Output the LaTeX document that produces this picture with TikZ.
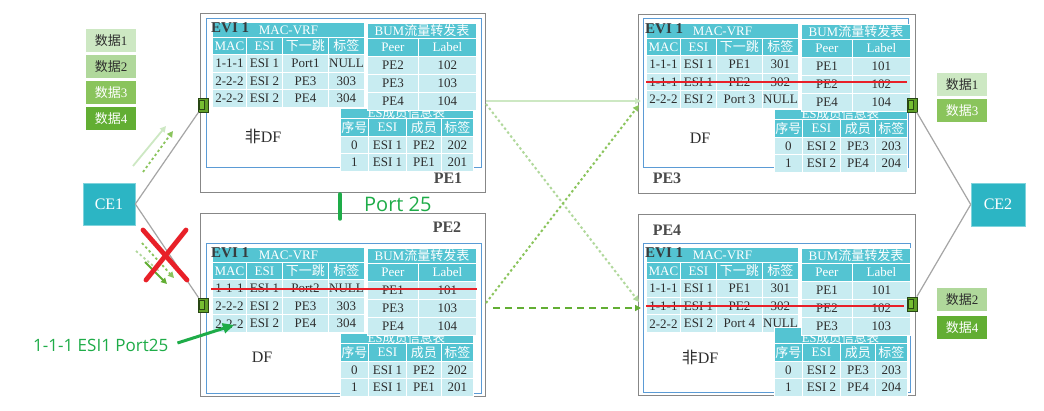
\documentclass[tikz,border=0pt]{standalone}
\usepackage{fontspec}
\setmainfont{Liberation Serif}
\newfontfamily\cjkf{Noto Sans CJK SC}
\newfontfamily\osans{Open Sans}
\usetikzlibrary{arrows.meta}
\newcommand\zh[1]{{\cjkf #1}}
\definecolor{thead}{RGB}{84,196,210}
\definecolor{trowc}{RGB}{200,236,241}
\definecolor{txtc}{RGB}{45,45,45}
\definecolor{evic}{RGB}{55,60,62}
\definecolor{pec}{RGB}{75,75,75}
\definecolor{blueb}{RGB}{91,155,213}
\definecolor{grayb}{RGB}{135,135,135}
\definecolor{cetl}{RGB}{44,181,196}
\definecolor{redx}{RGB}{232,32,40}
\definecolor{gA}{RGB}{205,232,195}
\definecolor{gB}{RGB}{176,216,155}
\definecolor{gC}{RGB}{138,196,92}
\definecolor{gD}{RGB}{98,174,51}
\definecolor{gtext}{RGB}{30,172,72}
\definecolor{portf}{RGB}{96,160,40}
\definecolor{porti}{RGB}{118,190,50}
\definecolor{portd}{RGB}{40,70,20}
\definecolor{linkc}{RGB}{165,165,165}
\tikzset{
  cellbase/.style={draw=white, line width=0.9pt, inner sep=0pt, font=\fontsize{13}{13}\selectfont},
  thd/.style={cellbase, fill=thead, text=white},
  trw/.style={cellbase, fill=trowc, text=txtc},
  evi/.style={inner sep=0pt, font=\fontsize{15}{15}\selectfont\bfseries, text=evic},
  esl/.style={inner sep=0pt, font=\fontsize{12.5}{13}\selectfont, text=white},
  graybox/.style={draw=grayb, line width=1.3pt, inner sep=0pt},
  bluebox/.style={draw=blueb, line width=1.1pt, inner sep=0pt},
  pelbl/.style={inner sep=0pt, font=\fontsize{16}{16}\selectfont\bfseries, text=pec},
  dflbl/.style={inner sep=0pt, font=\fontsize{16}{16}\selectfont, text=txtc},
  cebox/.style={fill=cetl, draw=cetl!60!white, line width=0.6pt, minimum width=52pt, minimum height=42pt, inner sep=0pt, text=white, font=\fontsize{16}{16}\selectfont},
  databox/.style={minimum width=50pt, minimum height=23pt, inner sep=0pt, font=\fontsize{13}{13}\selectfont},
  port/.style={fill=portf, draw=portd, line width=0.8pt, minimum width=10pt, minimum height=14pt, inner sep=0pt},
  portin/.style={fill=porti, draw=portd, line width=0.6pt, minimum width=5pt, minimum height=9pt, inner sep=0pt},
  link/.style={draw=linkc, line width=1.2pt},
  tip/.style={-{Triangle[length=6pt,width=6pt]}},
  dotl/.style={dash pattern=on 2.4pt off 2.6pt},
  strike/.style={draw=redx, line width=2.2pt},
  gtxt/.style={inner sep=0pt, text=gtext},
}
\newcommand\tc[7]{\node[#1,minimum width=#5pt,minimum height=#6pt,anchor=north west] (#2) at (#3,#4) {#7};}
\newcommand\petables[7]{%
\begin{scope}[shift={(#2,#3)}]
 % MAC-VRF table
 \tc{thd}{#1mt}{0}{0}{152}{15}{MAC-VRF}
 \node[evi, anchor=west] (#1evi) at (-1,5.5) {EVI 1};
 \tc{thd}{#1mh1}{0}{15}{34}{17}{MAC}
 \tc{thd}{#1mh2}{34}{15}{36}{17}{ESI}
 \tc{thd}{#1mh3}{70}{15}{46}{17}{\zh{下一跳}}
 \tc{thd}{#1mh4}{116}{15}{36}{17}{\zh{标签}}
 \foreach \pa/\pb/\pc/\pd [count=\i] in {#5}{
   \pgfmathsetmacro\yy{32+(\i-1)*17.7}
   \tc{trw}{#1m\i-1}{0}{\yy}{34}{17.7}{\pa}
   \tc{trw}{#1m\i-2}{34}{\yy}{36}{17.7}{\pb}
   \tc{trw}{#1m\i-3}{70}{\yy}{46}{17.7}{\pc}
   \tc{trw}{#1m\i-4}{116}{\yy}{36}{17.7}{\pd}
 }
 % ES table
 \pgfmathsetmacro\eh{96-#4}
 \tc{thd}{#1et}{128}{#4}{133}{\eh}{}
 \begin{scope}
  \clip (128,88.5) rectangle (261,96);
  \node[esl] (#1etx) at (194.5,91) {ES\zh{成员信息表}};
 \end{scope}
 \tc{thd}{#1eh1}{128}{96}{28}{18}{\zh{序号}}
 \tc{thd}{#1eh2}{156}{96}{38}{18}{ESI}
 \tc{thd}{#1eh3}{194}{96}{35}{18}{\zh{成员}}
 \tc{thd}{#1eh4}{229}{96}{32}{18}{\zh{标签}}
 \foreach \pa/\pb/\pc/\pd [count=\i] in {#7}{
   \pgfmathsetmacro\yy{114+(\i-1)*17.5}
   \tc{trw}{#1e\i-1}{128}{\yy}{28}{17.5}{\pa}
   \tc{trw}{#1e\i-2}{156}{\yy}{38}{17.5}{\pb}
   \tc{trw}{#1e\i-3}{194}{\yy}{35}{17.5}{\pc}
   \tc{trw}{#1e\i-4}{229}{\yy}{32}{17.5}{\pd}
 }
 % BUM table
 \tc{thd}{#1bt}{155}{1}{109}{15}{BUM\zh{流量转发表}}
 \tc{thd}{#1bh1}{155}{16}{51}{18}{Peer}
 \tc{thd}{#1bh2}{206}{16}{58}{18}{Label}
 \foreach \pa/\pb [count=\i] in {#6}{
   \pgfmathsetmacro\yy{34+(\i-1)*18}
   \tc{trw}{#1b\i-1}{155}{\yy}{51}{18}{\pa}
   \tc{trw}{#1b\i-2}{206}{\yy}{58}{18}{\pb}
 }
\end{scope}}
\begin{document}
\begin{tikzpicture}[x=1pt,y=-1pt]
\path[use as bounding box, fill=white] (0,0) rectangle (1044,411);

% PE boxes
\node[graybox, minimum width=285pt, minimum height=179pt, anchor=north west] (pe1) at (200,13) {};
\node[bluebox, minimum width=275pt, minimum height=149pt, anchor=north west] (pe1b) at (206,18) {};
\node[graybox, minimum width=285pt, minimum height=183pt, anchor=north west] (pe2) at (200,213) {};
\node[bluebox, minimum width=275pt, minimum height=150pt, anchor=north west] (pe2b) at (206,243) {};
\node[graybox, minimum width=277pt, minimum height=179pt, anchor=north west] (pe3) at (638,14) {};
\node[bluebox, minimum width=265pt, minimum height=149pt, anchor=north west] (pe3b) at (643,18) {};
\node[graybox, minimum width=277pt, minimum height=181pt, anchor=north west] (pe4) at (638,214) {};
\node[bluebox, minimum width=267pt, minimum height=149pt, anchor=north west] (pe4b) at (643,243) {};

% tables
\petables{a}{212}{22}{86}{1-1-1/ESI 1/Port1/NULL, 2-2-2/ESI 2/PE3/303, 2-2-2/ESI 2/PE4/304}{PE2/102, PE3/103, PE4/104}{0/ESI 1/PE2/202, 1/ESI 1/PE1/201}
\petables{b}{212}{247}{86}{1-1-1/ESI 1/Port2/NULL, 2-2-2/ESI 2/PE3/303, 2-2-2/ESI 2/PE4/304}{PE1/101, PE3/103, PE4/104}{0/ESI 1/PE2/202, 1/ESI 1/PE1/201}
\petables{c}{646}{23}{86}{1-1-1/ESI 1/PE1/301, 1-1-1/ESI 1/PE2/302, 2-2-2/ESI 2/Port 3/NULL}{PE1/101, PE2/102, PE4/104}{0/ESI 2/PE3/203, 1/ESI 2/PE4/204}
\petables{d}{646}{247}{80}{1-1-1/ESI 1/PE1/301, 1-1-1/ESI 1/PE2/302, 2-2-2/ESI 2/Port 4/NULL}{PE1/101, PE2/102, PE3/103}{0/ESI 2/PE3/203, 1/ESI 2/PE4/204}

% PE labels
\node[pelbl] (l1) at (448,178) {PE1};
\node[pelbl] (l2) at (447,227) {PE2};
\node[pelbl] (l3) at (667,178) {PE3};
\node[pelbl] (l4) at (667,230) {PE4};
\node[dflbl] (df1) at (263,136) {\zh{非}DF};
\node[dflbl] (df2) at (262,357) {DF};
\node[dflbl] (df3) at (700,138) {DF};
\node[dflbl] (df4) at (700,357) {\zh{非}DF};

% strike lines
\coordinate (s2a) at (211,289); \coordinate (s2b) at (477,289);
\coordinate (s3a) at (646,82);  \coordinate (s3b) at (907,82);
\coordinate (s4a) at (646,306); \coordinate (s4b) at (904,306);
\draw[strike] (s2a) -- (s2b);
\draw[strike] (s3a) -- (s3b);
\draw[strike] (s4a) -- (s4b);

% CE nodes
\node[cebox] (ce1) at (109,204) {CE1};
\node[cebox, minimum width=54pt, minimum height=43pt] (ce2) at (998,204.5) {CE2};

% ports
\node[port] (p1) at (203.5,105) {};
\node[port] (p2) at (203.5,305) {};
\node[port] (p3) at (912.5,105) {};
\node[port] (p4) at (912.5,304) {};
\node[portin] (p1i) at (202,105) {};
\node[portin] (p2i) at (202,305) {};
\node[portin] (p3i) at (911,105) {};
\node[portin] (p4i) at (911,304) {};

% links
\draw[link] (ce1.east) -- (p1);
\draw[link] (ce1.east) -- (p2);
\draw[link] (ce2.west) -- (p3);
\draw[link] (ce2.west) -- (p4);

% data boxes
\node[databox, fill=gA, text=txtc, anchor=north west] (dl1) at (86,29) {\zh{数据}1};
\node[databox, fill=gB, text=txtc, anchor=north west] (dl2) at (86,55) {\zh{数据}2};
\node[databox, fill=gC, text=white, anchor=north west] (dl3) at (86,81) {\zh{数据}3};
\node[databox, fill=gD, text=white, anchor=north west] (dl4) at (86,107) {\zh{数据}4};
\node[databox, fill=gA, text=txtc, anchor=north west] (dr1) at (937,73) {\zh{数据}1};
\node[databox, fill=gC, text=white, anchor=north west] (dr3) at (937,99) {\zh{数据}3};
\node[databox, fill=gB, text=txtc, anchor=north west] (dr2) at (937,288) {\zh{数据}2};
\node[databox, fill=gD, text=white, anchor=north west] (dr4) at (937,316) {\zh{数据}4};

% left arrows
\coordinate (a1s) at (133,166); \coordinate (a1e) at (166,126);
\coordinate (a2s) at (143,172); \coordinate (a2e) at (173,131);
\draw[tip, gA, line width=1.8pt] (a1s) -- (a1e);
\draw[tip, gC, line width=1.8pt, dotl] (a2s) -- (a2e);
\coordinate (a3s) at (136,251); \coordinate (a3e) at (159,271);
\coordinate (a4s) at (142,243); \coordinate (a4e) at (174,278);
\coordinate (a5s) at (145,262); \coordinate (a5e) at (167,284);
\draw[tip, gB, line width=1.8pt, dotl] (a3s) -- (a3e);
\draw[tip, gC, line width=1.8pt, dotl] (a4s) -- (a4e);
\draw[tip, gD, line width=1.8pt] (a5s) -- (a5e);

% red X
\coordinate (x1) at (143,230); \coordinate (x2) at (187,280);
\coordinate (x3) at (186,230); \coordinate (x4) at (146,280);
\draw[redx, line width=4.8pt, line cap=round] (x1) -- (x2);
\draw[redx, line width=4.8pt, line cap=round] (x3) -- (x4);

% middle arrows
\coordinate (m1s) at (486,101); \coordinate (m1e) at (641,101);
\coordinate (m2s) at (486,104); \coordinate (m2e) at (639,302);
\coordinate (m3s) at (486,303); \coordinate (m3e) at (639,105);
\coordinate (m4s) at (493,308); \coordinate (m4e) at (641,308);
\draw[tip, gA, line width=2pt] (m1s) -- (m1e);
\draw[tip, gB, line width=2pt, dotl] (m2s) -- (m2e);
\draw[tip, gC, line width=2pt, dotl] (m3s) -- (m3e);
\draw[tip, gD, line width=2pt, dash pattern=on 7pt off 5pt] (m4s) -- (m4e);

% Port 25
\coordinate (bar1) at (340,194); \coordinate (bar2) at (340,219);
\draw[gtext, line width=3.5pt, line cap=round] (bar1) -- (bar2);
\node[gtxt, anchor=west, font=\osans\fontsize{20}{20}\selectfont] (p25) at (364,204) {Port 25};

% annotation
\node[gtxt, anchor=west, font=\osans\fontsize{17}{17}\selectfont] (ann) at (33,345) {1-1-1 ESI1 Port25};
\coordinate (annt) at (234,325);
\draw[gtext, line width=3pt, -{Triangle[length=11pt,width=10pt]}] ([xshift=9pt,yshift=2pt]ann.east) -- (annt);
\end{tikzpicture}
\end{document}
